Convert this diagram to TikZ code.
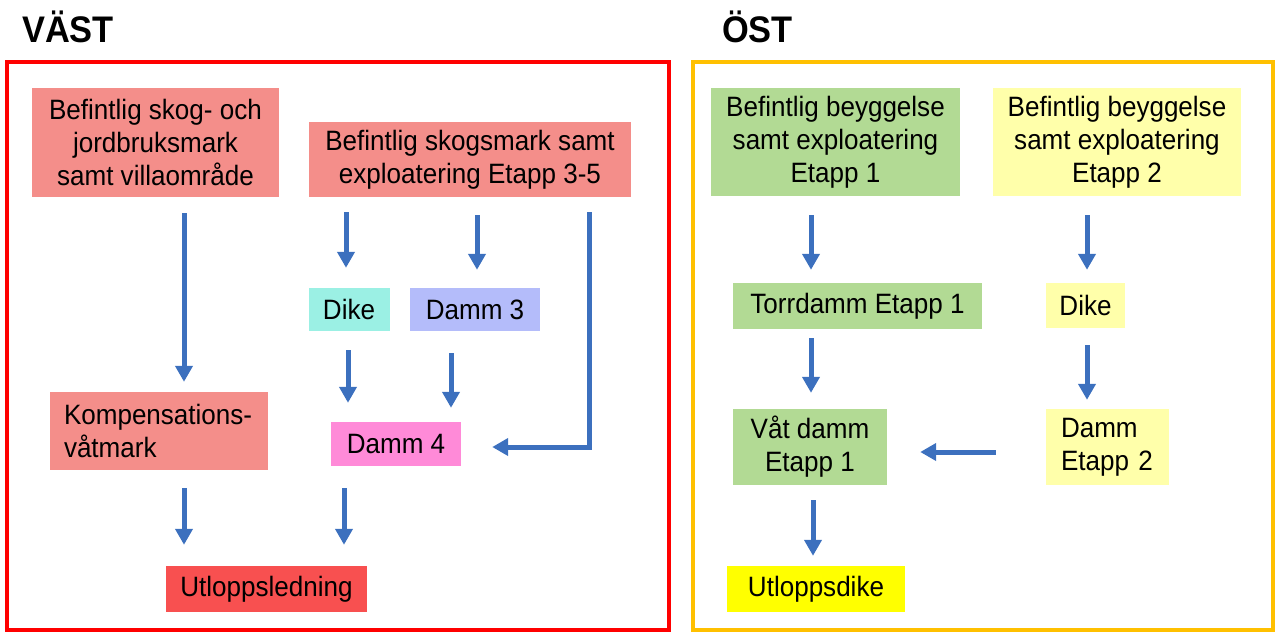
\documentclass[tikz,border=0pt]{standalone}
\usepackage{fontspec}
\setmainfont[FakeStretch=0.93]{Liberation Sans}
\usetikzlibrary{arrows.meta,calc}
\definecolor{frameRed}{RGB}{255,0,0}
\definecolor{frameOrange}{RGB}{255,192,0}
\definecolor{salmon}{RGB}{244,142,138}
\definecolor{turq}{RGB}{155,240,228}
\definecolor{lavender}{RGB}{180,188,250}
\definecolor{pinkbox}{RGB}{255,138,216}
\definecolor{redbox}{RGB}{248,80,80}
\definecolor{greenbox}{RGB}{178,218,148}
\definecolor{lightyellow}{RGB}{255,255,170}
\definecolor{yellowbox}{RGB}{255,255,0}
\definecolor{arrowblue}{RGB}{60,112,190}
\begin{document}
\begin{tikzpicture}[x=1pt,y=-1pt,
  box/.style={rectangle,inner sep=0pt,align=center,font=\fontsize{28}{33}\selectfont,text=black},
  lbox/.style={rectangle,inner sep=0pt,inner xsep=14pt,align=left,font=\fontsize{28}{33}\selectfont,text=black},
  title/.style={anchor=base west,inner sep=0pt,font=\bfseries\fontsize{37}{40}\selectfont},
  arr/.style={draw=arrowblue,line width=5pt,-{Triangle[length=16pt,width=17pt]}},
  frame/.style={line width=4pt}
]
\useasboundingbox (0,0) rectangle (1276,632);

% titles
\node[title] (tV) at (22,42) {VÄST};
\node[title] (tO) at (722,42) {ÖST};

% frames
\draw[frame,draw=frameRed] (7,62) rectangle (669,630);
\draw[frame,draw=frameOrange] (693,62) rectangle (1273,630);

% left nodes
\node[box,fill=salmon,minimum width=247pt,minimum height=109pt] (A) at (155.5,142.5) {Befintlig skog- och\\jordbruksmark\\samt villaområde};
\node[box,fill=salmon,minimum width=322pt,minimum height=75pt] (B) at (470,159.5) {Befintlig skogsmark samt\\exploatering Etapp 3-5};
\node[box,fill=turq,minimum width=81pt,minimum height=43pt] (DikeL) at (349,309.5) {Dike};
\node[box,fill=lavender,minimum width=130pt,minimum height=43pt] (Damm3) at (475,309.5) {Damm 3};
\node[lbox,fill=salmon,text width=190pt,minimum height=78pt] (Komp) at (159,431) {Kompensations-\\våtmark};
\node[box,fill=pinkbox,minimum width=130pt,minimum height=44pt] (Damm4) at (396,444) {Damm 4};
\node[box,fill=redbox,minimum width=201pt,minimum height=46pt] (Utl) at (266.5,589) {Utloppsledning};

% right nodes
\node[box,fill=greenbox,minimum width=249pt,minimum height=108pt] (C) at (835.5,142) {Befintlig beyggelse\\samt exploatering\\Etapp 1};
\node[box,fill=lightyellow,minimum width=248pt,minimum height=108pt] (D) at (1117,142) {Befintlig beyggelse\\samt exploatering\\Etapp 2};
\node[box,fill=greenbox,minimum width=249pt,minimum height=46pt] (Torr) at (857.5,306) {Torrdamm Etapp 1};
\node[box,fill=lightyellow,minimum width=79pt,minimum height=45pt] (DikeR) at (1085.5,305.5) {Dike};
\node[box,fill=greenbox,minimum width=154pt,minimum height=76pt] (Vat) at (810,447) {Våt damm\\Etapp 1};
\node[lbox,fill=lightyellow,inner xsep=15pt,text width=93pt,minimum height=76pt] (Damm2) at (1107.5,447) {Damm\\Etapp 2};
\node[box,fill=yellowbox,minimum width=178pt,minimum height=46pt] (UtlD) at (816,589) {Utloppsdike};

% left arrows
\draw[arr] ($(A.south)+(28.5,16)$) -- ($(Komp.north)+(25,-10)$);
\draw[arr] ($(B.south)+(-124,15)$) -- ($(DikeL.north)+(-3,-20)$);
\draw[arr] ($(B.south)+(7,18)$) -- ($(Damm3.north)+(2,-18)$);
\draw[arr] ($(B.south)+(119,15)$) |- ($(Damm4.east)+(31,3)$);
\draw[arr] ($(DikeL.south)+(-1,19)$) -- ($(Damm4.north)+(-48,-19)$);
\draw[arr] ($(Damm3.south)+(-24,22)$) -- ($(Damm4.north)+(55,-14)$);
\draw[arr] ($(Komp.south)+(25,18)$) -- ($(Utl.north)+(-82.5,-21)$);
\draw[arr] ($(Damm4.south)+(-52,22)$) -- ($(Utl.north)+(77.5,-21)$);

% right arrows
\draw[arr] ($(C.south)+(-24.5,19)$) -- ($(Torr.north)+(-46.5,-13)$);
\draw[arr] ($(D.south)+(-30,19)$) -- ($(DikeR.north)+(1.5,-13)$);
\draw[arr] ($(Torr.south)+(-46.5,9)$) -- ($(Vat.north)+(1,-16)$);
\draw[arr] ($(DikeR.south)+(1.5,17)$) -- ($(Damm2.north)+(-20.5,-9)$);
\draw[arr] ($(Damm2.west)+(-50,5)$) -- ($(Vat.east)+(33,5)$);
\draw[arr] ($(Vat.south)+(3,15)$) -- ($(UtlD.north)+(-3,-10)$);
\end{tikzpicture}
\end{document}
